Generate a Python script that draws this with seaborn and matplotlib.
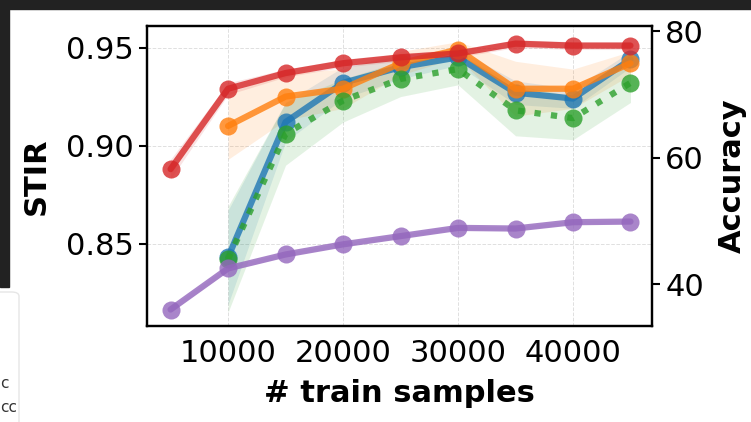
import numpy as np
import pandas as pd
import matplotlib
matplotlib.use("Agg")
import matplotlib.pyplot as plt
from matplotlib.patches import Rectangle, FancyBboxPatch
import seaborn as sns

# x values
train_samples = [5000, 10000, 15000, 20000, 25000, 30000, 35000, 40000, 45000]

# STIR series (left axis), mean and std; None where no run exists
red_mean = [0.888, 0.929, 0.937, 0.942, 0.945, 0.947, 0.952, 0.951, 0.951]
red_std = [0.005, 0.003, 0.002, 0.002, 0.002, 0.002, 0.002, 0.002, 0.002]
orange_mean = [None, 0.910, 0.925, 0.929, 0.942, 0.949, 0.929, 0.929, 0.942]
orange_std = [None, 0.017, 0.012, 0.010, 0.006, 0.004, 0.014, 0.010, 0.006]
blue_mean = [None, 0.843, 0.912, 0.932, 0.940, 0.945, 0.927, 0.924, 0.944]
blue_std = [None, 0.024, 0.010, 0.008, 0.006, 0.004, 0.006, 0.005, 0.004]
green_mean = [None, 0.842, 0.906, 0.923, 0.934, 0.939, 0.918, 0.914, 0.932]
green_std = [None, 0.027, 0.016, 0.011, 0.009, 0.008, 0.013, 0.011, 0.010]

# accuracy series (right axis)
purple_mean = [36.0, 42.5, 44.7, 46.3, 47.6, 48.9, 48.8, 49.8, 49.9]
purple_std = [0.4, 0.4, 0.3, 0.3, 0.3, 0.3, 0.3, 0.3, 0.3]

left_ticks = [0.85, 0.90, 0.95]
right_ticks = [40, 60, 80]
x_ticks = [10000, 20000, 30000, 40000]

sns.set_theme(style="whitegrid")
plt.rcParams["font.family"] = ["DejaVu Sans"]
plt.rcParams["axes.edgecolor"] = "black"
plt.rcParams["axes.labelcolor"] = "black"
plt.rcParams["text.color"] = "black"
plt.rcParams["axes.linewidth"] = 1.6

fig = plt.figure(figsize=(7.51, 4.22), dpi=100)
ax = fig.add_axes([147 / 751, 96 / 422, 505 / 751, 300 / 422])
ax2 = ax.twinx()


def draw(axis, mean, std, color, ls="-"):
    df = pd.DataFrame({"x": train_samples, "y": mean, "s": std}).dropna()
    df = df.astype(float)
    axis.fill_between(df["x"], df["y"] - df["s"], df["y"] + df["s"],
                      color=color, alpha=0.13, lw=0)
    sns.lineplot(data=df, x="x", y="y", ax=axis, color=color, lw=4.5,
                 ls=ls, marker="o", markersize=13, markeredgewidth=0,
                 alpha=0.8)


draw(ax, blue_mean, blue_std, "#1f77b4")
draw(ax, orange_mean, orange_std, "#ff7f0e")
draw(ax, green_mean, green_std, "#2ca02c", ls=":")
draw(ax, red_mean, red_std, "#d62728")
draw(ax2, purple_mean, purple_std, "#9467bd")

ax.set_xlim(2950, 46870)
ax.set_ylim(0.808, 0.961)
ax2.set_ylim(33.4, 80.8)
ax.set_xticks(x_ticks)
ax.set_yticks(left_ticks)
ax.set_yticklabels([f"{t:.2f}" for t in left_ticks])
ax2.set_yticks(right_ticks)

ax.grid(True, ls="--", lw=0.7, color="#e0e0e0")
ax2.grid(False)
for a in (ax, ax2):
    a.tick_params(axis="both", direction="out", length=6, width=1.5,
                  color="black", labelsize=22, labelcolor="black")
    for sp in a.spines.values():
        sp.set_color("black")
        sp.set_linewidth(1.6)

ax.set_xlabel("# train samples", fontsize=22, fontweight="bold", labelpad=8)
ax.set_ylabel("STIR", fontsize=22, fontweight="bold", labelpad=11)
ax2.set_ylabel("Accuracy", fontsize=22, fontweight="bold", labelpad=10)

# screenshot surroundings: dark bands and a cut-off legend box
fig.patches.append(Rectangle((0, 1 - 9 / 422), 1, 9 / 422,
                             transform=fig.transFigure, color="#222222", zorder=10))
fig.patches.append(Rectangle((0, 135 / 422), 9 / 751, 287 / 422,
                             transform=fig.transFigure, color="#222222", zorder=10))
fig.patches.append(FancyBboxPatch((-20 / 751, -10 / 422), 39 / 751, 140 / 422,
                                  boxstyle="round,pad=0,rounding_size=0.01",
                                  transform=fig.transFigure, facecolor="white",
                                  edgecolor="#e6e6e6", lw=1, zorder=10))
fig.text(0.5 / 751, 1 - 383 / 422, "c", ha="left", va="center",
         fontsize=11, color="#333333", zorder=11)
fig.text(0.5 / 751, 1 - 407 / 422, "cc", ha="left", va="center",
         fontsize=11, color="#333333", zorder=11)

fig.savefig("out.png", dpi=100)
